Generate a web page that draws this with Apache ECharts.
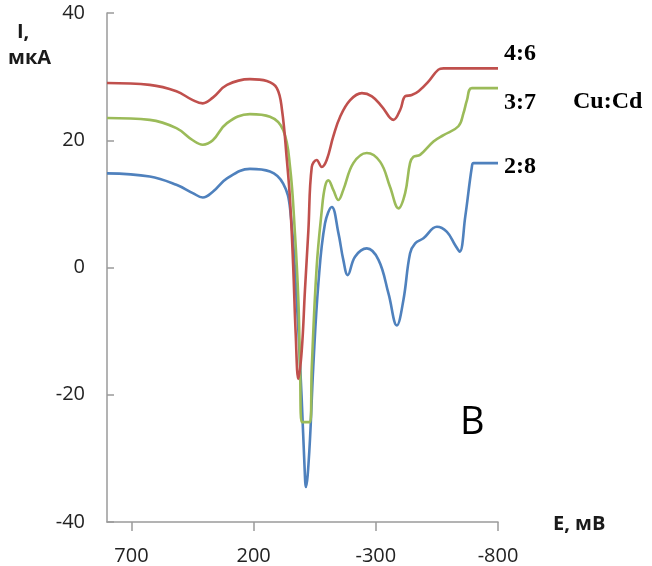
<!DOCTYPE html>
<html>
<head>
<meta charset="utf-8">
<script src="https://cdn.jsdelivr.net/npm/echarts@6/dist/echarts.min.js"></script>
<style>
  html, body { margin: 0; padding: 0; background: #fff; }
  #chart { width: 652px; height: 566px; }
</style>
</head>
<body>
<div id="chart"></div>
<script>
// Potential axis ticks (mV) and current axis ticks (µA)
const xTicks = [700, 200, -300, -800];
const yTicks = [40, 20, 0, -20, -40];

// Cu:Cd = 4:6 — potential E (mV) and current I (µA)
const redE = [800, 625, 516, 449, 408, 367, 309, 215, 146, 105, 84, 64, 51, 38, 28, 17,
              3, -10, -24, -38, -58, -79, -99, -126, -154, -195, -243, -284, -325, -372,
              -400, -420, -447, -475, -515, -556, -577, -800];
const redI = [29.0, 28.7, 27.7, 26.3, 25.8, 26.7, 28.7, 29.6, 29.3, 28.2, 24.8, 16.9, 10.6, 0.1, -10.3, -17.5,
              -13.0, -3.6, 5.8, 15.8, 16.9, 15.8, 16.9, 20.6, 23.7, 26.3, 27.4, 26.9, 25.3, 23.2,
              24.8, 26.9, 27.1, 27.7, 29.2, 31.1, 31.3, 31.3];

// Cu:Cd = 3:7
const greenE = [800, 625, 516, 449, 408, 367, 309, 215, 133, 79, 51, 31, 17, 10, 3, -31,
                -38, -58, -79, -92, -106, -126, -147, -167, -208, -263, -318, -358, -393,
                -420, -440, -454, -481, -536, -577, -638, -659, -673, -693, -800];
const greenI = [23.5, 23.2, 21.9, 20.0, 19.3, 20.0, 22.7, 24.1, 23.7, 21.6, 15.8, 5.4, -5.1, -15.7, -24.3, -24.3,
                -15.7, 0.1, 9.0, 12.7, 13.7, 12.2, 10.6, 12.2, 16.4, 18.0, 16.6, 12.7, 9.3,
                11.7, 16.4, 17.4, 17.7, 19.8, 20.8, 22.2, 24.3, 26.3, 28.2, 28.2];

// Cu:Cd = 2:8
const blueE = [800, 625, 516, 449, 408, 367, 309, 215, 133, 79, 51, 24, 3, -8, -14, -28,
               -44, -65, -92, -120, -147, -167, -185, -215, -263, -311, -352, -386, -413,
               -440, -461, -495, -550, -591, -625, -643, -666, -693, -700, -800];
const blueI = [14.8, 14.3, 13.0, 11.7, 11.0, 11.9, 14.0, 15.5, 15.1, 13.2, 9.3, -5.1, -20.9, -31.0, -34.5, -28.8,
               -15.7, -2.5, 6.9, 9.5, 5.4, 1.2, -1.2, 1.7, 3.0, 1.2, -4.1, -9.1, -5.1,
               2.2, 3.8, 4.6, 6.4, 5.6, 3.5, 2.5, 8.0, 15.8, 16.4, 16.4];

const seriesNames = ['4:6', '3:7', '2:8'];
const seriesColors = ['#C0504D', '#9BBB59', '#4F81BD'];
const labelShift = [-15, 15, 4];

function pairs(xs, ys) { return xs.map((x, i) => [x, ys[i]]); }
const curves = [pairs(redE, redI), pairs(greenE, greenI), pairs(blueE, blueI)];

const tickFont = { fontFamily: 'Open Sans', fontSize: 20, color: '#222' };
const axisGray = '#9a9a9a';

const chart = echarts.init(document.getElementById('chart'), null, { renderer: 'canvas' });
chart.setOption({
  animation: false,
  backgroundColor: '#ffffff',
  grid: { left: 107, right: 154, top: 13, bottom: 44 },
  xAxis: {
    type: 'value',
    inverse: true,
    min: -800, max: 800, interval: 500,
    axisLine: { show: true, onZero: false, lineStyle: { color: axisGray, width: 1.5 } },
    axisTick: { show: true, inside: false, length: 9, lineStyle: { color: axisGray, width: 1.5 },
                customValues: xTicks },
    axisLabel: Object.assign({ margin: 24, customValues: xTicks }, tickFont),
    splitLine: { show: false }
  },
  yAxis: {
    type: 'value',
    min: -40, max: 40, interval: 20,
    axisLine: { show: true, onZero: false, lineStyle: { color: axisGray, width: 1.5 } },
    axisTick: { show: true, inside: true, length: 7, lineStyle: { color: axisGray, width: 1.5 },
                customValues: yTicks },
    axisLabel: Object.assign({ margin: 22, customValues: yTicks }, tickFont),
    splitLine: { show: false }
  },
  series: curves.map((d, i) => ({
    type: 'line',
    name: seriesNames[i],
    data: d,
    smooth: 0.4,
    symbol: 'none',
    clip: false,
    lineStyle: { color: seriesColors[i], width: 2.6 },
    markPoint: {
      symbol: 'circle',
      symbolSize: 0,
      silent: true,
      data: [{ coord: d[d.length - 1] }],
      label: {
        show: true,
        position: 'right',
        distance: 6,
        offset: [0, labelShift[i]],
        formatter: seriesNames[i],
        fontFamily: 'Liberation Serif',
        fontWeight: 'bold',
        fontSize: 24,
        color: '#000'
      }
    }
  })).reverse(),
  graphic: [
    { type: 'text', left: 17, top: 22, style: { text: 'I,', font: 'bold 20px "Open Sans"', fill: '#1a1a1a' } },
    { type: 'text', left: 8, top: 48, style: { text: 'мкА', font: 'bold 20px "Open Sans"', fill: '#1a1a1a' } },
    { type: 'text', left: 553, top: 514, style: { text: 'E, мВ', font: 'bold 20px "Open Sans"', fill: '#1a1a1a' } },
    { type: 'text', left: 573, top: 90, style: { text: 'Cu:Cd', font: 'bold 24px "Liberation Serif"', fill: '#000' } },
    { type: 'text', left: 460, top: 404, style: { text: 'B', font: '38px "Open Sans"', fill: '#000' } }
  ]
});
</script>
</body>
</html>
